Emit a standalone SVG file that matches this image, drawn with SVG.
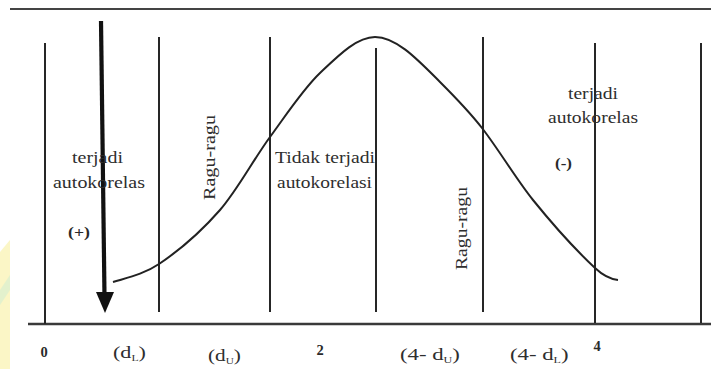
<svg xmlns="http://www.w3.org/2000/svg" width="711" height="369" viewBox="0 0 711 369">
<style>
.ln{stroke:#262626;stroke-width:2;fill:none}
.axis{stroke:#3a3a3a;stroke-width:2.6;fill:none}
.t{font-family:"Liberation Serif","Times New Roman",serif;font-size:16.5px;fill:#2e2e2e}
.bt{font-family:"Liberation Serif","Times New Roman",serif;font-size:17px;fill:#2e2e2e}
.b{font-family:"Liberation Serif","Times New Roman",serif;font-size:14.5px;font-weight:bold;fill:#2a2a2a}
.s{font-size:9px}
</style>
<rect width="711" height="369" fill="#ffffff"/>
<polygon points="0,252 10,240 10,369 0,369" fill="#fbf6c6"/>
<polygon points="0,290 10,275 10,290 0,305" fill="#d9f0d0" opacity="0.7"/>
<g id="frame">
<line x1="10" y1="9" x2="711" y2="9" stroke="#444" stroke-width="2"/>
<line class="axis" x1="28" y1="324" x2="711" y2="324"/>
</g>
<g id="dividers">
<line class="ln" x1="45" y1="43" x2="45" y2="324"/>
<line class="ln" x1="159" y1="37" x2="159" y2="312"/>
<line class="ln" x1="270" y1="37" x2="270" y2="312"/>
<line class="ln" x1="376" y1="48" x2="376" y2="312"/>
<line class="ln" x1="483" y1="37" x2="483" y2="312"/>
<line class="ln" x1="595" y1="43" x2="595" y2="323"/>
<line class="ln" x1="701" y1="43" x2="701" y2="323"/>
</g>
<g id="connectors">
<path id="curve" d="M113,282 C128.3,277.4 143.7,274.3 159,264 C179.3,250.4 199.7,233.2 220,210 C236.7,191 253.3,159.8 270,137 C286.7,114.2 303.3,88.8 320,73 C338.3,55.6 356.7,37 375,37 C396.7,37 418.3,60.3 440,82 C454,96 468,110 482,128 C499,149.9 516,178.9 533,200 C553.7,225.6 574.3,248.6 595,268 C602.7,275.2 610.3,279.2 618,280" stroke="#222" stroke-width="2" fill="none"/>
<g id="arrow">
<line x1="101" y1="21" x2="104.5" y2="296" stroke="#111" stroke-width="4.2"/>
<polygon points="96,292 114,292 105,313" fill="#111"/>
</g>
</g>
<g id="zone-pos">
<text class="t" x="72" y="163" textLength="51" lengthAdjust="spacingAndGlyphs">terjadi</text>
<text class="t" x="53" y="188" textLength="92" lengthAdjust="spacingAndGlyphs">autokorelas</text>
<text class="b" x="68" y="237" textLength="22" lengthAdjust="spacingAndGlyphs">(+)</text>
</g>
<g id="zone-ragu1">
<text class="t" transform="translate(215,200) rotate(-90)" textLength="85" lengthAdjust="spacingAndGlyphs">Ragu-ragu</text>
</g>
<g id="zone-tidak">
<text class="t" x="275" y="163" textLength="100" lengthAdjust="spacingAndGlyphs">Tidak terjadi</text>
<text class="t" x="277" y="188" textLength="95" lengthAdjust="spacingAndGlyphs">autokorelasi</text>
</g>
<g id="zone-ragu2">
<text class="t" transform="translate(467,270) rotate(-90)" textLength="83" lengthAdjust="spacingAndGlyphs">Ragu-ragu</text>
</g>
<g id="zone-neg">
<text class="t" x="568" y="99" textLength="50" lengthAdjust="spacingAndGlyphs">terjadi</text>
<text class="t" x="548" y="123" textLength="90" lengthAdjust="spacingAndGlyphs">autokorelas</text>
<text class="b" x="555" y="168" textLength="17" lengthAdjust="spacingAndGlyphs">(-)</text>
</g>
<g id="axis-labels">
<text class="b" x="44" y="357" text-anchor="middle">0</text>
<text class="bt" transform="translate(113,358) scale(1.3,1)">(d<tspan class="s" dy="3">L</tspan><tspan dy="-3">)</tspan></text>
<text class="bt" transform="translate(208,361) scale(1.25,1)">(d<tspan class="s" dy="3">U</tspan><tspan dy="-3">)</tspan></text>
<text class="b" x="320" y="355" text-anchor="middle">2</text>
<text class="bt" transform="translate(400,360) scale(1.34,1)">(4- d<tspan class="s" dy="3">U</tspan><tspan dy="-3">)</tspan></text>
<text class="bt" transform="translate(510,360) scale(1.34,1)">(4- d<tspan class="s" dy="3">L</tspan><tspan dy="-3">)</tspan></text>
<text class="b" x="597" y="351" text-anchor="middle">4</text>
</g>
</svg>
